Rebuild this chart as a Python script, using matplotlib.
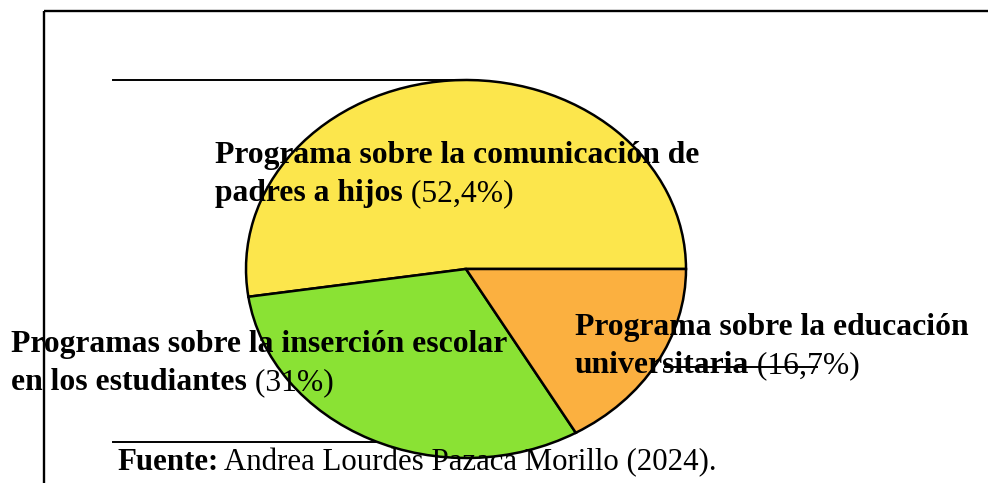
import matplotlib
matplotlib.use("Agg")
import matplotlib.pyplot as plt

# data
labels = [
    ["Programa sobre la comunicación de", "padres a hijos"],
    ["Programas sobre la inserción escolar", "en los estudiantes"],
    ["Programa sobre la educación", "universitaria"],
]
values = [52.4, 31.0, 16.7]
pct_text = ["52,4%", "31%", "16,7%"]
colors = ["#FCE64C", "#8AE234", "#FBB040"]
source_bold = "Fuente:"
source_text = "Andrea Lourdes Pazaca Morillo (2024)."

W, H = 988, 483
plt.rcParams["font.family"] = ["Liberation Serif", "DejaVu Serif"]

fig = plt.figure(figsize=(W / 100, H / 100), dpi=100)

# background layer in pixel coords (frame and rule lines)
bg = fig.add_axes([0, 0, 1, 1], zorder=0)
bg.set_xlim(0, W)
bg.set_ylim(H, 0)
bg.axis("off")
bg.plot([44, 44], [11, H], color="k", lw=1.7, solid_capstyle="butt")
bg.plot([44, W], [11, 11], color="k", lw=1.7, solid_capstyle="butt")
bg.plot([113, 466], [80, 80], color="k", lw=1.4)
bg.plot([113, 466], [442, 442], color="k", lw=1.4)

# pie, stretched into an ellipse
left, right, top, bottom = 246, 686, 80, 458
pa = fig.add_axes([left / W, 1 - bottom / H, (right - left) / W, (bottom - top) / H], zorder=1)
wedges, _ = pa.pie(values, colors=colors, startangle=0, counterclock=True,
                   wedgeprops=dict(edgecolor="k", linewidth=1.8))
for w in wedges:
    w.set_clip_on(False)
pa.set_aspect("auto")
pa.set_xlim(-1, 1)
pa.set_ylim(-1, 1)
pa.axis("off")

# text layer
tx = fig.add_axes([0, 0, 1, 1], zorder=2)
tx.set_xlim(0, W)
tx.set_ylim(H, 0)
tx.axis("off")
tx.patch.set_alpha(0)

renderer = fig.canvas.get_renderer()
FS = 22.8


def mixed(x, y, bold, regular, size=FS):
    t = tx.text(x, y, bold, fontsize=size, fontweight="bold", va="baseline", ha="left")
    bb = t.get_window_extent(renderer=renderer)
    xe = tx.transData.inverted().transform((bb.x1, bb.y0))[0]
    tx.text(xe, y, " " + regular, fontsize=size, va="baseline", ha="left")


label_pos = [(215, 163), (11, 352), (575, 335)]
for (x, y), lab, p in zip(label_pos, labels, pct_text):
    tx.text(x, y, lab[0], fontsize=FS, fontweight="bold", va="baseline", ha="left")
    mixed(x, y + 38, lab[1], "(" + p + ")")

# stray line across the orange label
tx.plot([665, 817], [367, 367], color="k", lw=1.4)

mixed(117, 470, source_bold, source_text, size=22.2)

fig.savefig("out.png", dpi=100)
